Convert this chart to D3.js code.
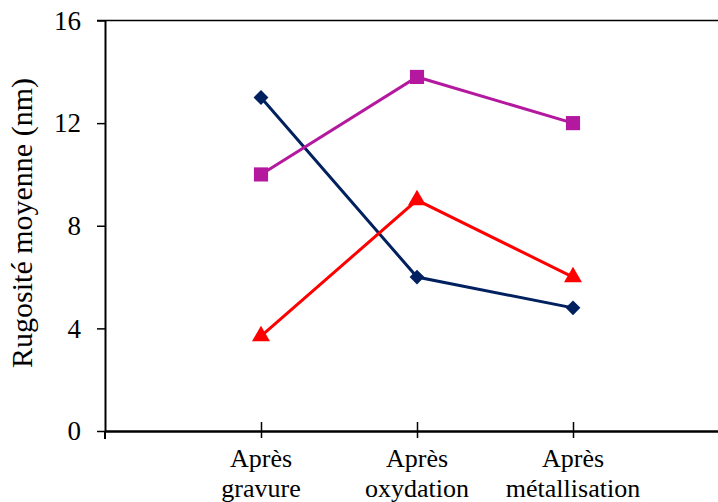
<!DOCTYPE html>
<html><head><meta charset="utf-8">
<script src="https://cdn.jsdelivr.net/npm/d3@7"></script>
<style>body{margin:0;background:#fff}svg{display:block}
svg text{font-family:"Liberation Serif","Times New Roman",Times,serif;fill:#000}</style>
</head><body>
<script>
const categories = [["Après","gravure"],["Après","oxydation"],["Après","métallisation"]];
const catKeys = ["gravure","oxydation","metallisation"];
const seriesDiamond = [13, 6, 4.8];
const seriesSquare = [10, 13.8, 12];
const seriesTriangle = [3.7, 9, 6];
const yTicks = [0, 4, 8, 12, 16];
const yLabel = "Rugosité moyenne (nm)";

const W = 718, H = 502;
const svg = d3.select("body").append("svg").attr("width", W).attr("height", H);

const x = d3.scalePoint().domain(catKeys).range([105, 729]).padding(1);
const y = d3.scaleLinear().domain([0, 16]).range([431, 20.5]);

// top border
svg.append("line").attr("x1", 97).attr("x2", W).attr("y1", y(16)).attr("y2", y(16))
  .attr("stroke", "#000").attr("stroke-width", 1.5);

// y axis
const ya = svg.append("g").attr("transform", "translate(105,0)")
  .call(d3.axisLeft(y).tickValues(yTicks).tickSize(8).tickSizeOuter(0).tickPadding(16));
ya.attr("font-family", null);
ya.select(".domain").attr("stroke-width", 2);
ya.selectAll(".tick line").attr("stroke-width", 1.5);
ya.selectAll("text").attr("font-size", 27);

// x axis
const xa = svg.append("g").attr("transform", "translate(0," + y(0) + ")")
  .call(d3.axisBottom(x).tickSize(8).tickSizeOuter(0).tickFormat(""));
xa.select(".domain").attr("stroke-width", 2.5);
xa.selectAll(".tick line").attr("y1", -9).attr("y2", 7).attr("stroke-width", 1.5);
svg.append("line").attr("x1", 105).attr("x2", 105).attr("y1", y(0)).attr("y2", y(0) + 8)
  .attr("stroke", "#000").attr("stroke-width", 2);

// category labels
catKeys.forEach((k, i) => {
  const t = svg.append("text").attr("x", x(k)).attr("text-anchor", "middle")
    .attr("font-size", 26);
  t.append("tspan").attr("x", x(k)).attr("y", 467).text(categories[i][0]);
  t.append("tspan").attr("x", x(k)).attr("y", 497).text(categories[i][1]);
});

// y label
svg.append("text").attr("transform", "translate(32,223) rotate(-90)")
  .attr("text-anchor", "middle").attr("font-size", 30).text(yLabel);

const series = [
  {vals: seriesDiamond, color: "#002060", sym: d3.symbolSquare, size: 110, rot: 45},
  {vals: seriesSquare, color: "#B4189E", sym: d3.symbolSquare, size: 200, rot: 0},
  {vals: seriesTriangle, color: "#FF0000", sym: d3.symbolTriangle, size: 140, rot: 0}
];
const line = d3.line().x((d, i) => x(catKeys[i])).y(d => y(d));
series.forEach(s => {
  svg.append("path").datum(s.vals).attr("d", line).attr("fill", "none")
    .attr("stroke", s.color).attr("stroke-width", 3);
});
series.forEach(s => {
  svg.selectAll(null).data(s.vals).enter().append("path")
    .attr("d", d3.symbol().type(s.sym).size(s.size))
    .attr("transform", (d, i) => "translate(" + x(catKeys[i]) + "," + y(d) + ") rotate(" + s.rot + ")")
    .attr("fill", s.color);
});
</script>
</body></html>
